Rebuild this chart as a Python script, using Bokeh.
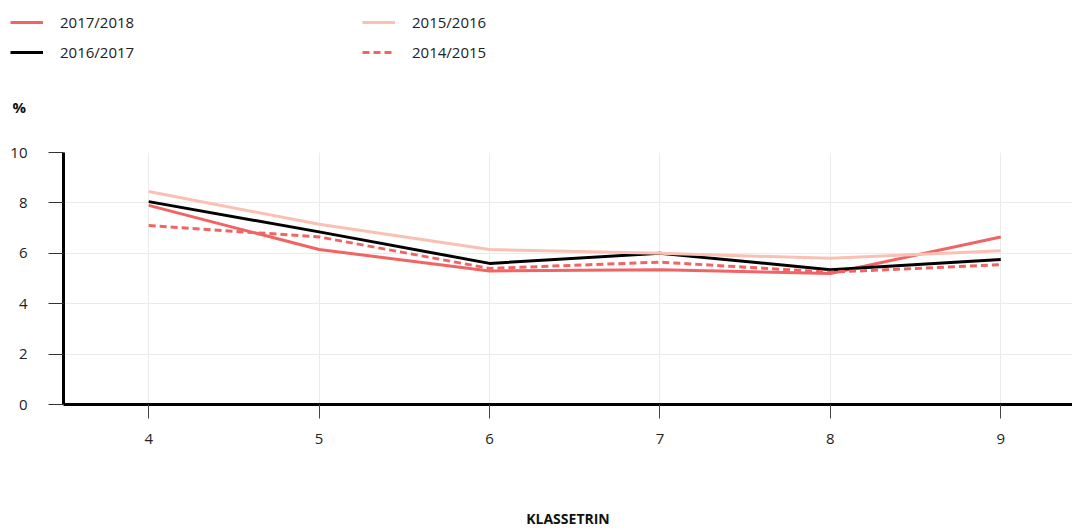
from bokeh.plotting import figure
from bokeh.layouts import column, row
from bokeh.models import FixedTicker, Legend, LegendItem, Range1d, Label
from bokeh.embed import file_html
from bokeh.resources import INLINE

grades = [4, 5, 6, 7, 8, 9]
s2017_2018 = [7.9, 6.15, 5.3, 5.35, 5.2, 6.65]
s2016_2017 = [8.05, 6.85, 5.6, 6.0, 5.35, 5.75]
s2015_2016 = [8.45, 7.15, 6.15, 6.0, 5.8, 6.1]
s2014_2015 = [7.1, 6.65, 5.4, 5.65, 5.25, 5.55]
series_names = ["2017/2018", "2016/2017", "2015/2016", "2014/2015"]
series_values = [s2017_2018, s2016_2017, s2015_2016, s2014_2015]
y_ticks = [0, 2, 4, 6, 8, 10]
x_label = "KLASSETRIN"
y_label = "%"

RED = "#f06464"
PINK = "#f9c0b4"
BLACK = "#000000"
FONT = "Open Sans"
styles = [dict(line_color=RED), dict(line_color=BLACK), dict(line_color=PINK),
          dict(line_color=RED, line_dash="7 4")]

# ---- legend strip (top) ----
LEG_H = 120
leg = figure(width=1072, height=LEG_H, output_backend="svg", toolbar_location=None,
             x_axis_location=None, y_axis_location=None,
             min_border=0, min_border_left=0, min_border_right=0,
             min_border_top=0, min_border_bottom=0,
             x_range=Range1d(100, 101), y_range=Range1d(100, 101))
leg.outline_line_color = None
leg.xgrid.visible = False
leg.ygrid.visible = False
# same series drawn outside the strip's visible range: only their legend glyphs show
leg_renderers = [leg.line(grades, vals, line_width=3, **st)
                 for vals, st in zip(series_values, styles)]
legend = Legend(items=[LegendItem(label=n, renderers=[r]) for n, r in zip(series_names, leg_renderers)],
                location=(10, LEG_H - 62), orientation="vertical", nrows=2,
                glyph_width=33, glyph_height=20, label_height=20, label_width=292,
                label_standoff=17, spacing=10, padding=0, margin=0,
                border_line_color=None, background_fill_alpha=0,
                label_text_font=FONT, label_text_font_size="15px", label_text_color="#222222")
leg.add_layout(legend, "center")
# unit label "%" above the value axis
leg.add_layout(Label(x=12, y=LEG_H - 106, x_units="screen", y_units="screen", text=y_label,
                     text_font=FONT, text_font_size="15px", text_font_style="bold",
                     text_color="#111111", text_align="left", text_baseline="middle"))

# ---- main chart ----
p = figure(width=1072, height=530 - LEG_H, output_backend="svg", toolbar_location=None,
           x_range=Range1d(3.5, 9.421), y_range=Range1d(0, 10),
           min_border_left=63, min_border_right=0, min_border_top=152 - LEG_H,
           min_border_bottom=126)
p.outline_line_color = None

for vals, st in zip(series_values, styles):
    p.line(grades, vals, line_width=3, **st)

# axes
p.xaxis.ticker = FixedTicker(ticks=grades)
p.yaxis.ticker = FixedTicker(ticks=y_ticks)
for ax in (p.xaxis[0], p.yaxis[0]):
    ax.axis_line_width = 3
    ax.axis_line_color = BLACK
    ax.major_tick_in = 0
    ax.minor_tick_line_color = None
    ax.major_tick_line_width = 1
    ax.major_label_text_font = FONT
    ax.major_label_text_font_size = "15px"
    ax.major_label_text_color = "#222222"
ax = p.xaxis[0]
ax.major_tick_out = 14
ax.major_tick_line_color = "#444444"
ax.major_label_standoff = 15
ax.axis_label = x_label
ax.axis_label_text_font = FONT
ax.axis_label_text_font_style = "bold"
ax.axis_label_text_font_size = "14px"
ax.axis_label_text_color = "#111111"
ax.axis_label_standoff = 62

ay = p.yaxis[0]
ay.major_tick_out = 15
ay.major_tick_line_color = "#333333"
ay.major_label_standoff = 21

p.xgrid.grid_line_color = "#ebebeb"
p.ygrid.grid_line_color = "#ebebeb"
p.xgrid.grid_line_width = 1
p.ygrid.grid_line_width = 1

layout = column(row(leg), p, spacing=0)
open("out.html", "w").write(file_html(layout, INLINE))
